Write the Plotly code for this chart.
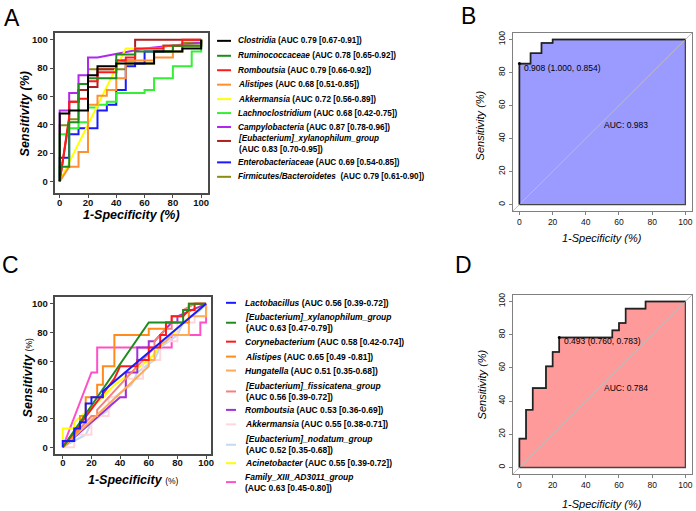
import plotly.graph_objects as go

FONT = "Arial, 'Liberation Sans', sans-serif"
W, H = 696, 511


def fx(p):
    return p / W


def fy(p):
    return 1 - p / H


# ---------------- Panel A data ----------------
a_names = ["Clostridia", "Ruminococcaceae", "Romboutsia", "Alistipes", "Akkermansia",
           "Lachnoclostridium", "Campylobacteria", "[Eubacterium]_xylanophilum_group",
           "Enterobacteriaceae", "Firmicutes/Bacteroidetes"]
a_auc = ["(AUC 0.79 [0.67-0.91])", "(AUC 0.78 [0.65-0.92])", "(AUC 0.79 [0.66-0.92])",
         "(AUC 0.68 [0.51-0.85])", "(AUC 0.72 [0.56-0.89])", "(AUC 0.68 [0.42-0.75])",
         "(AUC 0.87 [0.78-0.96])", "(AUC 0.83 [0.70-0.95])", "(AUC 0.69 [0.54-0.85])",
         " (AUC 0.79 [0.61-0.90])"]
a_colors = ["#000000", "#1E8C1E", "#FF1A1A", "#FF9030", "#FFFF00",
            "#33F033", "#B028F0", "#B01E1E", "#1A1AFF", "#8C8C14"]
a_fpr = [
    [0, 0, 6.7, 6.7, 20, 20, 26.7, 26.7, 40, 40, 66.7, 66.7, 86.7, 86.7, 100, 100],
    [0, 0, 6.7, 6.7, 13.3, 13.3, 20, 20, 40, 40, 53.3, 53.3, 80, 80, 100, 100],
    [0, 6.7, 6.7, 13.3, 13.3, 20, 20, 26.7, 26.7, 40, 40, 46.7, 46.7, 53.3, 53.3, 73.3, 73.3, 86.7, 86.7, 100],
    [0, 6.7, 13.3, 13.3, 20, 20, 26.7, 26.7, 33.3, 33.3, 40, 40, 46.7, 46.7, 66.7, 66.7, 80, 80, 100, 100],
    [0, 46.7, 73.3, 73.3, 100, 100],
    [0, 0, 6.7, 6.7, 13.3, 13.3, 20, 20, 26.7, 26.7, 33.3, 33.3, 40, 40, 60, 60, 66.7, 66.7, 80, 80, 93.3, 93.3, 100, 100],
    [0, 0, 6.7, 6.7, 13.3, 13.3, 20, 20, 26.7, 40, 60, 80, 100, 100],
    [0, 6.7, 6.7, 13.3, 13.3, 20, 20, 26.7, 26.7, 40, 40, 53.3, 53.3, 100],
    [0, 0, 6.7, 6.7, 13.3, 13.3, 26.7, 26.7, 33.3, 33.3, 40, 40, 46.7, 46.7, 53.3, 53.3, 60, 60, 73.3, 73.3, 100, 100],
    [0, 0, 6.7, 6.7, 13.3, 13.3, 20, 20, 46.7, 46.7, 66.7, 66.7, 86.7, 86.7, 100, 100],
]
a_tpr = [
    [0, 47.9, 47.9, 50, 50, 75, 75, 81.3, 81.3, 83.3, 83.3, 91.7, 91.7, 93.8, 93.8, 100],
    [0, 10.4, 10.4, 41.7, 41.7, 68.8, 68.8, 72.9, 72.9, 89.6, 89.6, 91.7, 91.7, 95.8, 95.8, 100],
    [0, 45.8, 56.3, 56.3, 58.3, 58.3, 70.8, 70.8, 77.1, 77.1, 85.4, 85.4, 87.5, 87.5, 93.8, 93.8, 95.8, 95.8, 100, 100],
    [0, 10.4, 10.4, 20.8, 20.8, 54.2, 54.2, 60.4, 60.4, 64.6, 64.6, 72.9, 72.9, 85.4, 85.4, 87.5, 87.5, 95.8, 95.8, 100],
    [0, 93.8, 93.8, 95.8, 95.8, 100],
    [0, 33.3, 33.3, 37.5, 37.5, 41.7, 41.7, 52.1, 52.1, 54.2, 54.2, 56.3, 56.3, 62.5, 62.5, 64.6, 64.6, 72.9, 72.9, 81.3, 81.3, 91.7, 91.7, 100],
    [0, 50, 50, 62.5, 62.5, 75, 75, 87.5, 87.5, 90, 93.8, 96, 98, 100],
    [0, 43.8, 56.3, 56.3, 64.6, 64.6, 66.7, 66.7, 79.2, 79.2, 85.4, 85.4, 100, 100],
    [0, 16.7, 16.7, 33.3, 33.3, 37.5, 37.5, 50, 50, 54.2, 54.2, 64.6, 64.6, 81.3, 81.3, 83.3, 83.3, 91.7, 91.7, 95.8, 95.8, 100],
    [0, 39.6, 39.6, 43.8, 43.8, 64.6, 64.6, 79.2, 79.2, 83.3, 83.3, 91.7, 91.7, 97.9, 97.9, 100],
]

# ---------------- Panel B data ----------------
b_fpr = [0, 0, 6.7, 6.7, 13.3, 13.3, 20, 20, 100]
b_tpr = [0, 85.4, 85.4, 91.7, 91.7, 97.9, 97.9, 100, 100]
b_best = (0, 85.4)
b_best_label = "0.908 (1.000, 0.854)"
b_auc_label = "AUC: 0.983"

# ---------------- Panel C data ----------------
c_names = ["Lactobacillus", "[Eubacterium]_xylanophilum_group", "Corynebacterium", "Alistipes",
           "Hungatella", "[Eubacterium]_fissicatena_group", "Romboutsia", "Akkermansia",
           "[Eubacterium]_nodatum_group", "Acinetobacter", "Family_XIII_AD3011_group"]
c_auc = ["(AUC 0.56 [0.39-0.72])", "(AUC 0.63 [0.47-0.79])", "(AUC 0.58 [0.42-0.74])",
         "(AUC 0.65 [0.49 -0.81])", "(AUC 0.51 [0.35-0.68])", "(AUC 0.56 [0.39-0.72])",
         "(AUC 0.53 [0.36-0.69])", "(AUC 0.55 [0.38-0.71])", "(AUC 0.52 [0.35-0.68])",
         "(AUC 0.55 [0.39-0.72])", "(AUC 0.63 [0.45-0.80])"]
c_colors = ["#1A1AFF", "#1E8C1E", "#FF1A1A", "#FF8C1A", "#FFAA55", "#F58080",
            "#A030D8", "#FFD6DC", "#C4DAF2", "#FFFF00", "#FF50C8"]
c_fpr = [
    [0, 0, 8, 8, 12, 12, 16, 16, 20, 20, 28, 28, 100],
    [0, 60, 84, 84, 88, 88, 100],
    [0, 36, 40, 52, 52, 60, 60, 68, 68, 72, 72, 76, 76, 84, 88, 92, 92, 100],
    [0, 12, 12, 16, 16, 24, 24, 28, 28, 36, 36, 60, 60, 72, 72, 88, 88, 100],
    [0, 56, 60, 60, 64, 64, 72, 76, 88, 88, 100, 100],
    [0, 20, 24, 24, 44, 56, 64, 64, 72, 76, 76, 84, 84, 92, 100],
    [0, 40, 44, 44, 52, 52, 60, 60, 64, 76, 80, 80, 100],
    [0, 8, 8, 20, 20, 32, 32, 44, 44, 56, 56, 68, 68, 80, 80, 92, 92, 100],
    [0, 16, 20, 32, 36, 48, 52, 64, 68, 80, 84, 96, 100],
    [0, 0, 8, 8, 28, 36, 48, 60, 72, 84, 100],
    [0, 20, 24, 24, 76, 76, 96, 96, 100, 100],
]
c_tpr = [
    [0, 4.3, 4.3, 13, 13, 17.4, 17.4, 30.4, 30.4, 34.8, 34.8, 39.1, 100],
    [0, 87, 87, 95.7, 95.7, 100, 100],
    [0, 47.8, 56.5, 56.5, 60.9, 60.9, 69.6, 69.6, 78.3, 78.3, 87, 87, 91.3, 91.3, 95.7, 95.7, 100, 100],
    [0, 13, 21.7, 21.7, 34.8, 34.8, 43.5, 43.5, 56.5, 56.5, 78.3, 78.3, 82.6, 82.6, 87, 87, 100, 100],
    [0, 52.2, 56.5, 60.9, 60.9, 69.6, 73.9, 78.3, 78.3, 91.3, 91.3, 100],
    [0, 21.7, 21.7, 26.1, 47.8, 60.9, 69.6, 73.9, 82.6, 82.6, 91.3, 91.3, 95.7, 100, 100],
    [0, 34.8, 34.8, 52.2, 52.2, 69.6, 69.6, 73.9, 73.9, 87, 87, 91.3, 100],
    [0, 0, 8.7, 8.7, 21.7, 21.7, 34.8, 34.8, 47.8, 47.8, 60.9, 60.9, 73.9, 73.9, 87, 87, 100, 100],
    [0, 8.7, 17.4, 26.1, 34.8, 43.5, 52.2, 60.9, 69.6, 78.3, 87, 95.7, 100],
    [0, 13, 13, 17.4, 34.8, 43.5, 52.2, 60.9, 73.9, 87, 100],
    [0, 52.2, 52.2, 69.6, 69.6, 78.3, 78.3, 87, 87, 100],
]

# ---------------- Panel D data ----------------
d_fpr = [0, 0, 4, 4, 8, 8, 16, 16, 20, 20, 24, 24, 56, 56, 60, 60, 64, 64, 76, 76, 100]
d_tpr = [0, 17.4, 17.4, 34.8, 34.8, 47.8, 47.8, 60.9, 60.9, 69.6, 69.6, 78.3, 78.3,
         82.6, 82.6, 87, 87, 95.7, 95.7, 100, 100]
d_best = (24, 78.3)
d_best_label = "0.493 (0.760, 0.783)"
d_auc_label = "AUC: 0.784"

panel_letters = ["A", "B", "C", "D"]
ticks = [0, 20, 40, 60, 80, 100]

fig = go.Figure()

# Panel A curves (first legend entry drawn on top)
for i in reversed(range(len(a_names))):
    fig.add_trace(go.Scatter(x=a_fpr[i], y=a_tpr[i], mode="lines",
                             line=dict(color=a_colors[i], width=2),
                             xaxis="x", yaxis="y", showlegend=False, hoverinfo="skip"))

# Panel C curves
for i in reversed(range(len(c_names))):
    fig.add_trace(go.Scatter(x=c_fpr[i], y=c_tpr[i], mode="lines",
                             line=dict(color=c_colors[i], width=2),
                             xaxis="x3", yaxis="y3", showlegend=False, hoverinfo="skip"))


def roc_panel(fpr, tpr, best, best_label, auc_label, fill, xa, ya, best_xy, auc_xy):
    px_ = list(fpr) + [100, 0]
    py_ = list(tpr) + [0, 0]
    fig.add_trace(go.Scatter(x=px_, y=py_, mode="lines", fill="toself", fillcolor=fill,
                             line=dict(color="#444444", width=1.3),
                             xaxis=xa, yaxis=ya, showlegend=False, hoverinfo="skip"))
    fig.add_trace(go.Scatter(x=[-4, 104], y=[-4, 104], mode="lines",
                             line=dict(color="#BDBDBD", width=1),
                             xaxis=xa, yaxis=ya, showlegend=False, hoverinfo="skip"))
    fig.add_trace(go.Scatter(x=fpr, y=tpr, mode="lines",
                             line=dict(color="#222222", width=1.6),
                             xaxis=xa, yaxis=ya, showlegend=False, hoverinfo="skip"))
    fig.add_trace(go.Scatter(x=[best[0]], y=[best[1]], mode="markers",
                             marker=dict(color="black", size=3),
                             xaxis=xa, yaxis=ya, showlegend=False, hoverinfo="skip"))
    fig.add_annotation(x=best_xy[0], y=best_xy[1], xref=xa, yref=ya, text=best_label,
                       showarrow=False, xanchor="left", yanchor="middle",
                       font=dict(family=FONT, size=8.5, color="black"))
    fig.add_annotation(x=auc_xy[0], y=auc_xy[1], xref=xa, yref=ya, text=auc_label,
                       showarrow=False, xanchor="left", yanchor="middle",
                       font=dict(family=FONT, size=8.5, color="black"))


roc_panel(b_fpr, b_tpr, b_best, b_best_label, b_auc_label, "#9A9AFF", "x2", "y2",
          (1.5, 83), (49.5, 48))
roc_panel(d_fpr, d_tpr, d_best, d_best_label, d_auc_label, "#FF9A9A", "x4", "y4",
          (25.5, 76), (49.5, 48))


def ax(domain, rng, anchor, bold, size, lc, lw, angle=0, standoff=0):
    return dict(domain=domain, range=rng, anchor=anchor, showgrid=False, zeroline=False,
                showline=True, mirror=True, linecolor=lc, linewidth=lw,
                ticks="outside", ticklen=3, tickcolor=lc, tickwidth=1,
                tickvals=ticks, ticktext=[str(t) for t in ticks],
                tickfont=dict(family=FONT, size=size, color="#111111",
                              weight="bold" if bold else "normal"),
                ticklabelstandoff=standoff,
                tickangle=angle, fixedrange=True)


layout = dict(
    width=W, height=H, autosize=False,
    margin=dict(l=0, r=0, t=0, b=0),
    paper_bgcolor="white", plot_bgcolor="white",
    showlegend=False,
    xaxis=ax([fx(55), fx(209)], [-3.5, 104.9], "y", True, 9.5, "#4A4A4A", 2, standoff=-4),
    yaxis=ax([fy(192), fy(31)], [-8.4, 104.9], "x", True, 9.5, "#4A4A4A", 2),
    xaxis2=ax([fx(515), fx(695)], [-4, 104], "y2", False, 8.5, "#808080", 1.2),
    yaxis2=ax([fy(210), fy(31)], [-4, 104], "x2", False, 8.5, "#808080", 1.2, -90),
    xaxis3=ax([fx(55), fx(212)], [-5.6, 103.5], "y3", True, 9.5, "#4A4A4A", 2, standoff=-5),
    yaxis3=ax([fy(454), fy(296)], [-4.9, 104.9], "x3", True, 9.5, "#4A4A4A", 2),
    xaxis4=ax([fx(515), fx(695)], [-4, 104], "y4", False, 8.5, "#808080", 1.2),
    yaxis4=ax([fy(474), fy(294)], [-4, 104], "x4", False, 8.5, "#808080", 1.2, -90),
)
fig.update_layout(**layout)

shapes = []


def txt(x, y, text, size, angle=0, xanchor="center", yanchor="middle", align="center"):
    fig.add_annotation(x=fx(x), y=fy(y), xref="paper", yref="paper", text=text,
                       showarrow=False, textangle=angle, xanchor=xanchor, yanchor=yanchor,
                       align=align, font=dict(family=FONT, size=size, color="black"))


# Panel letters
letter_pos = [(12, 16), (471, 14), (11, 264), (466, 264)]
for letter, (lx, ly) in zip(panel_letters, letter_pos):
    txt(lx, ly, letter, 23)

# Axis titles
txt(132, 214, "<b><i>1-Specificity (%)</i></b>", 12.5)
txt(25, 112, "<b><i>Sensitivity (%)</i></b>", 12.5, angle=-90)
txt(605, 237, "<i>1-Specificity (%)</i>", 11)
txt(482, 124, "<i>Sensitivity (%)</i>", 11, angle=-90)
txt(134, 480, "<b><i>1-Specificity</i></b> <span style='font-size:8.5px'>(%)</span>", 12.5)
txt(28, 377, "<b><i>Sensitivity</i></b> <span style='font-size:8.5px'>(%)</span>", 12.5, angle=-90)
txt(605, 504, "<i>1-Specificity (%)</i>", 11)
txt(485, 384, "<i>Sensitivity (%)</i>", 11, angle=-90)

# Legend A
a_rows = [39, 54, 68.5, 83, 97.5, 111.5, 125.5, 143, 161, 175.5]
for i, name in enumerate(a_names):
    yk = a_rows[i] - 3.5 if i == 7 else a_rows[i]
    shapes.append(dict(type="line", xref="paper", yref="paper", x0=fx(218), x1=fx(232),
                       y0=fy(yk), y1=fy(yk), line=dict(color=a_colors[i], width=2)))
    if i == 7:
        t = "<b><i>%s</i><br>%s</b>" % (name, a_auc[i])
    else:
        t = "<b><i>%s</i> %s</b>" % (name, a_auc[i])
    txt(237, a_rows[i], t, 8.2, xanchor="left", align="left")

# Legend C
c_rows = [302, 322, 341, 356, 370, 391, 409.5, 424, 444.5, 463, 482]
c_two = {1, 5, 8, 10}
for i, name in enumerate(c_names):
    shapes.append(dict(type="line", xref="paper", yref="paper", x0=fx(227), x1=fx(237),
                       y0=fy(c_rows[i]), y1=fy(c_rows[i]), line=dict(color=c_colors[i], width=2)))
    if i in c_two:
        t = "<b><i>%s</i><br>%s</b>" % (name, c_auc[i])
    else:
        t = "<b><i>%s</i> %s</b>" % (name, c_auc[i])
    txt(244, c_rows[i], t, 8.5, xanchor="left", align="left")

fig.update_layout(shapes=shapes)

fig.write_html("out.html", config={"displayModeBar": False},
               post_script="document.body.style.margin='0';document.body.style.overflow='hidden';")
